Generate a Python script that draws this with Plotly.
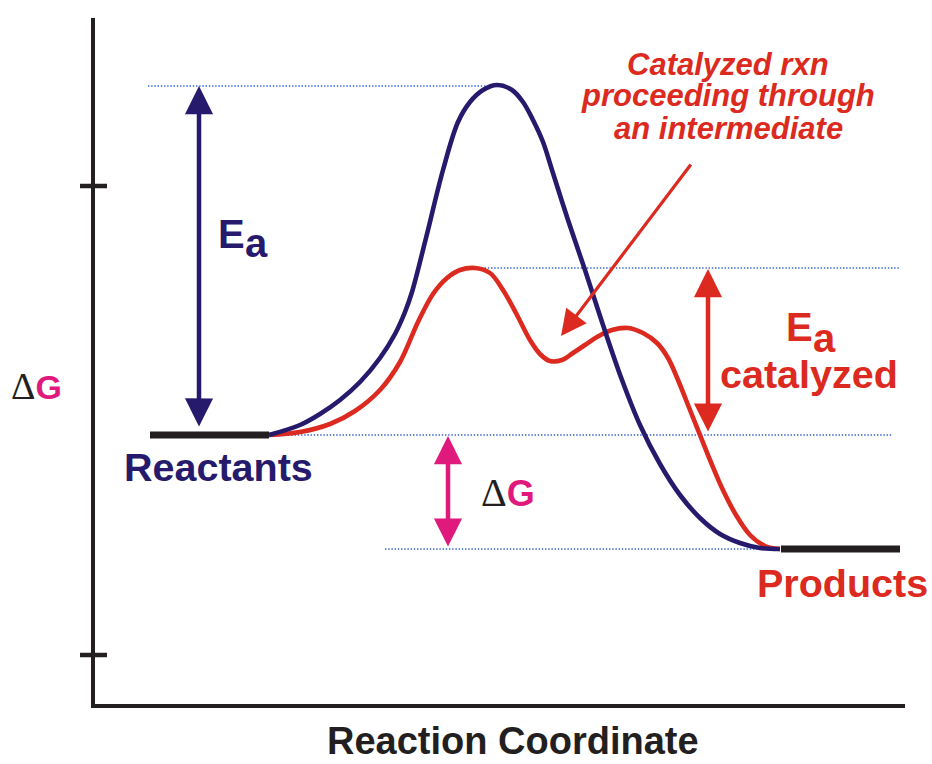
import plotly.graph_objects as go

# ---------------- data (reaction coordinate x, free energy G) ----------------
uncat_x = [176, 207, 227, 247, 267, 287, 302, 312, 319, 333, 350, 365, 377, 390, 404, 419, 430,
           440, 450, 459, 475, 492, 510, 529, 547, 567, 587, 607, 627, 647, 667, 687]
uncat_g = [271, 281, 292, 306, 324, 348, 372, 394, 414, 468, 536, 584, 604, 616, 621, 616, 604,
           586, 564, 536, 486, 436, 381, 326, 281, 242, 211, 188, 172, 163, 158, 157]

cat_x = [176, 207, 237, 262, 287, 307, 325, 340, 354, 367, 382, 397, 410, 424, 437, 447, 457, 469,
         480, 492, 504, 519, 535, 550, 564, 575, 585, 597, 607, 617, 629, 643, 657, 672, 687]
cat_g = [271, 274, 282, 295, 316, 344, 384, 412, 428, 436, 438, 433, 416, 391, 366, 352, 345, 346,
         353, 361, 369, 376, 378, 373, 363, 348, 326, 296, 271, 246, 218, 191, 171, 160, 157]

level_names = ["Reactants", "Products"]
level_g = [271, 157]
level_x0 = [57, 688]
level_x1 = [176, 807]

ts_g = 620        # uncatalyzed transition state
ts_cat_g = 438    # catalyzed transition state

guide_g = [620, 438, 271, 157]
guide_x0 = [55, 382, 176, 292]
guide_x1 = [404, 807, 800, 687]

axis_top = 688
axis_right = 812
tick_vals = [520, 51]

ea_x = 106
dg_x = 355
eacat_x = 615
note_tail = (599, 543)
note_head = (468, 370)

# ---------------- styles ----------------
NAVY = "#261a6d"
RED = "#dc2a20"
MAG = "#e0197c"
BLACK = "#231f20"
DOT = "#2f62d8"
FONT = "Liberation Sans, Arial, sans-serif"

fig = go.Figure()

# dotted guide lines
for g, x0, x1 in zip(guide_g, guide_x0, guide_x1):
    fig.add_trace(go.Scatter(x=[x0, x1], y=[g, g], mode="lines",
                             line=dict(color=DOT, width=1.4, dash="1.4px,1.8px"),
                             hoverinfo="skip", showlegend=False))

# energy curves
fig.add_trace(go.Scatter(x=cat_x, y=cat_g, mode="lines", line=dict(color=RED, width=4.6, shape="spline", smoothing=1),
                         hoverinfo="skip", showlegend=False))
fig.add_trace(go.Scatter(x=uncat_x, y=uncat_g, mode="lines", line=dict(color=NAVY, width=4.6, shape="spline", smoothing=1),
                         hoverinfo="skip", showlegend=False))

# reactant / product level bars
for g, x0, x1 in zip(level_g, level_x0, level_x1):
    fig.add_trace(go.Scatter(x=[x0, x1], y=[g, g], mode="lines",
                             line=dict(color=BLACK, width=7), hoverinfo="skip", showlegend=False))

# axes
fig.add_trace(go.Scatter(x=[0, 0], y=[0, axis_top], mode="lines", line=dict(color=BLACK, width=4),
                         hoverinfo="skip", showlegend=False))
fig.add_trace(go.Scatter(x=[-2, axis_right], y=[0, 0], mode="lines", line=dict(color=BLACK, width=4),
                         hoverinfo="skip", showlegend=False))
for t in tick_vals:
    fig.add_trace(go.Scatter(x=[-13, 14], y=[t, t], mode="lines", line=dict(color=BLACK, width=4.5),
                             hoverinfo="skip", showlegend=False))

ann = []

def arrow(x, y, ax, ay, color, width, size, both=True):
    d = dict(x=x, y=y, ax=ax, ay=ay, xref="x", yref="y", axref="x", ayref="y",
             text="", showarrow=True, arrowhead=2, arrowsize=size, arrowwidth=width,
             arrowcolor=color, standoff=0, startstandoff=0)
    if both:
        d.update(arrowside="end+start", startarrowhead=2, startarrowsize=size)
    ann.append(d)

arrow(ea_x, ts_g, ea_x, level_g[0] + 7, NAVY, 4.5, 1.25)
arrow(dg_x, level_g[0] - 1, dg_x, level_g[1] + 1, MAG, 4.5, 1.25)
arrow(eacat_x, ts_cat_g - 1, eacat_x, level_g[0] + 2, RED, 4.5, 1.25)
arrow(note_head[0], note_head[1], note_tail[0], note_tail[1], RED, 3.2, 1.6, both=False)

def label(x, y, text, size, color, xanchor="center", yanchor="middle", italic=False):
    ann.append(dict(x=x, y=y, xref="x", yref="y", text=text, showarrow=False,
                    xanchor=xanchor, yanchor=yanchor,
                    font=dict(family=FONT, size=size, color=color,
                              style="italic" if italic else "normal")))

label(125.5, 239, "<b>Reactants</b>", 39.5, NAVY)
label(749, 123.5, "<b>Products</b>", 39.5, RED)
label(419.5, -57.5, "<b>Reaction Coordinate</b>", 38, BLACK, yanchor="bottom")

def dg_text(size):
    return ("<span style='font-family:Liberation Serif, Times New Roman, serif;font-weight:normal;"
            "font-size:%dpx;color:%s'>Δ</span><b>G</b>" % (round(size * 1.12), BLACK))

label(-56.5, 320, dg_text(34), 34, MAG)
label(415, 214, dg_text(36), 36, MAG)

label(138, 472.5, "<b>E</b>", 40, NAVY)
label(163.5, 463, "<b>a</b>", 40, NAVY)
label(706.5, 379, "<b>E</b>", 40, RED)
label(731.5, 368, "<b>a</b>", 40, RED)
label(716, 332, "<b>catalyzed</b>", 39.5, RED)

label(635, 642, "<b>Catalyzed rxn</b>", 31, RED, italic=True)
label(635, 611, "<b>proceeding through</b>", 31, RED, italic=True)
label(635, 578, "<b>an intermediate</b>", 31, RED, italic=True)

fig.update_layout(
    width=932, height=764,
    margin=dict(l=0, r=0, t=0, b=0),
    paper_bgcolor="white", plot_bgcolor="white",
    xaxis=dict(range=[-93, 839], visible=False, fixedrange=True),
    yaxis=dict(range=[-58, 706], visible=False, fixedrange=True),
    annotations=ann,
    showlegend=False,
)

fig.write_html("out.html", config={"displayModeBar": False},
               post_script="document.body.style.margin='0';document.body.style.overflow='hidden';")
